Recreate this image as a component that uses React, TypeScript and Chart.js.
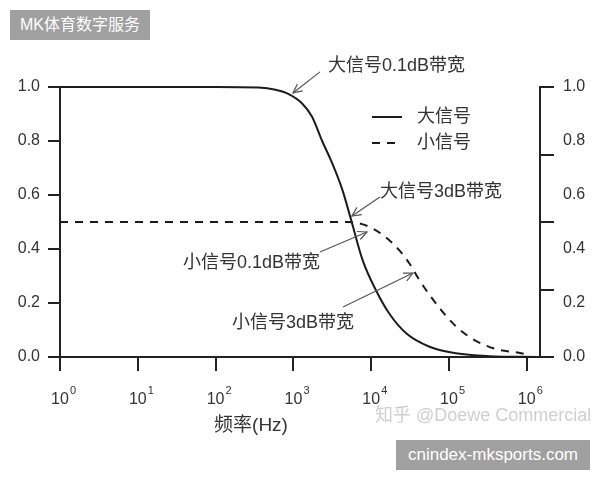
import { useEffect, useRef } from 'react';
import { Chart, registerables } from 'chart.js';
import type { ChartConfiguration, Plugin } from 'chart.js';

Chart.register(...registerables);

// Large signal response: frequency (Hz) and normalised amplitude
const largeFreq = [1, 100, 355, 589, 871, 1288, 1738, 2344, 3162, 4266, 5495, 7762, 11480, 16980, 28180, 56230, 123000, 331100, 1318000];
const largeGain = [1.0, 1.0, 0.998, 0.99, 0.974, 0.94, 0.89, 0.8, 0.717, 0.619, 0.51, 0.359, 0.248, 0.162, 0.088, 0.038, 0.0136, 0.003, 0.0];

// Small signal response
const smallFreq = [1, 5012, 7079, 9333, 14130, 22910, 30900, 41690, 56230, 79430, 117500, 182000, 288400, 446700, 851100, 1023000];
const smallGain = [0.5, 0.5, 0.495, 0.483, 0.452, 0.396, 0.347, 0.285, 0.23, 0.174, 0.119, 0.075, 0.044, 0.026, 0.014, 0.007];

const seriesNames = ['大信号', '小信号'];

// decades on the x axis: base label plus exponent drawn as superscript
const xTickExponents = [0, 1, 2, 3, 4, 5, 6];
const xTickBase = '10';
const yTickValues = [0, 0.2, 0.4, 0.6, 0.8, 1.0];
const rightMarkValues = [0, 0.25, 0.5, 0.75, 1.0];
const xTitle = '频率(Hz)';

// callouts: text anchor (left, middle), arrow start and arrow tip, in data space
const notes = [
  { text: '大信号0.1dB带宽', at: [2786, 1.078], from: [2198, 1.056], tip: [989, 0.978] },
  { text: '大信号3dB带宽', at: [12970, 0.611], from: [12970, 0.593], tip: [5663, 0.522] },
  { text: '小信号0.1dB带宽', at: [38, 0.348], from: [2198, 0.389], tip: [8830, 0.463] },
  { text: '小信号3dB带宽', at: [162, 0.126], from: [4345, 0.185], tip: [34430, 0.311] },
];

const INK = '#222';
const TEXT = '#333';
const LATIN = '"Liberation Sans", Arial, "Noto Sans CJK SC", sans-serif';

const overlay: Plugin<'line'> = {
  id: 'overlay',
  afterDraw(chart) {
    const { ctx, chartArea } = chart;
    const xs = chart.scales.x;
    const ys = chart.scales.y;
    ctx.save();

    // superscript exponents next to the "10" tick labels
    ctx.font = `11px ${LATIN}`;
    ctx.textBaseline = 'top';
    ctx.textAlign = 'left';
    ctx.fillStyle = TEXT;
    xs.ticks.forEach((t, i) => {
      ctx.fillText(String(xTickExponents[i]), xs.getPixelForValue(t.value) + 10, chartArea.bottom + 28);
    });

    // callouts with open arrowheads
    ctx.font = `18px ${LATIN}`;
    ctx.textBaseline = 'middle';
    ctx.strokeStyle = '#555';
    ctx.lineWidth = 1.2;
    notes.forEach((n) => {
      ctx.fillText(n.text, xs.getPixelForValue(n.at[0]), ys.getPixelForValue(n.at[1]));
      const x0 = xs.getPixelForValue(n.from[0]);
      const y0 = ys.getPixelForValue(n.from[1]);
      const x1 = xs.getPixelForValue(n.tip[0]);
      const y1 = ys.getPixelForValue(n.tip[1]);
      ctx.beginPath();
      ctx.moveTo(x0, y0);
      ctx.lineTo(x1, y1);
      ctx.stroke();
      const a = Math.atan2(y1 - y0, x1 - x0);
      ctx.beginPath();
      ctx.moveTo(x1 - 10 * Math.cos(a - 0.45), y1 - 10 * Math.sin(a - 0.45));
      ctx.lineTo(x1, y1);
      ctx.lineTo(x1 - 10 * Math.cos(a + 0.45), y1 - 10 * Math.sin(a + 0.45));
      ctx.stroke();
    });

    // legend inside the plot
    chart.data.datasets.forEach((ds: any, i) => {
      const ly = chartArea.top + 30 + i * 26;
      const lx = chartArea.left + 312;
      ctx.beginPath();
      ctx.strokeStyle = ds.borderColor;
      ctx.lineWidth = ds.borderWidth;
      ctx.setLineDash(ds.borderDash || []);
      ctx.moveTo(lx, ly);
      ctx.lineTo(lx + 30, ly);
      ctx.stroke();
      ctx.setLineDash([]);
      ctx.fillStyle = TEXT;
      ctx.fillText(ds.label, lx + 45, ly);
    });

    // x axis title
    ctx.font = `19px ${LATIN}`;
    ctx.textAlign = 'center';
    ctx.fillStyle = TEXT;
    ctx.fillText(xTitle, chartArea.left + 191, chartArea.bottom + 69);

    ctx.restore();
  },
};

export default function App() {
  const canvasRef = useRef<HTMLCanvasElement>(null);
  const chartRef = useRef<Chart | null>(null);

  useEffect(() => {
    if (!canvasRef.current) return;
    if (chartRef.current) chartRef.current.destroy();

    const tickFont = { family: LATIN, size: 16 };

    const config: ChartConfiguration<'line'> = {
      type: 'line',
      data: {
        datasets: [
          {
            label: seriesNames[0],
            data: largeFreq.map((f, i) => ({ x: f, y: largeGain[i] })),
            borderColor: '#1c1c1c',
            borderWidth: 2,
            pointRadius: 0,
            cubicInterpolationMode: 'monotone',
            clip: false,
          },
          {
            label: seriesNames[1],
            data: smallFreq.map((f, i) => ({ x: f, y: smallGain[i] })),
            borderColor: '#1c1c1c',
            borderWidth: 2,
            borderDash: [8, 7],
            pointRadius: 0,
            cubicInterpolationMode: 'monotone',
            clip: false,
          },
        ],
      },
      options: {
        animation: false,
        responsive: true,
        maintainAspectRatio: false,
        layout: { padding: { top: 87, left: 0, right: 0, bottom: 0 } },
        plugins: {
          legend: { display: false },
          tooltip: { enabled: false },
        },
        scales: {
          x: {
            type: 'logarithmic',
            min: 1,
            max: 1.48e6,
            afterBuildTicks: (s) => {
              s.ticks = xTickExponents.map((e) => ({ value: 10 ** e }));
            },
            afterFit: (s) => {
              s.height = 123;
            },
            ticks: {
              callback: () => xTickBase,
              autoSkip: false,
              maxRotation: 0,
              padding: 19,
              color: TEXT,
              font: tickFont,
            },
            grid: { drawOnChartArea: false, tickLength: 14, color: INK, lineWidth: 2 },
            border: { color: INK, width: 2 },
          },
          y: {
            position: 'left',
            min: 0,
            max: 1,
            afterBuildTicks: (s) => {
              s.ticks = yTickValues.map((v) => ({ value: v }));
            },
            afterFit: (s) => {
              s.width = 60;
            },
            ticks: {
              callback: (v) => Number(v).toFixed(1),
              padding: 8,
              color: TEXT,
              font: tickFont,
            },
            grid: { drawOnChartArea: false, tickLength: 12, color: INK, lineWidth: 2 },
            border: { color: INK, width: 2 },
          },
          y2: {
            position: 'right',
            weight: 0,
            min: 0,
            max: 1,
            afterBuildTicks: (s) => {
              s.ticks = rightMarkValues.map((v) => ({ value: v }));
            },
            afterFit: (s) => {
              s.width = 14;
            },
            ticks: { display: false },
            grid: { drawOnChartArea: false, tickLength: 14, color: INK, lineWidth: 2 },
            border: { color: INK, width: 2 },
          },
          y3: {
            position: 'right',
            weight: 1,
            min: 0,
            max: 1,
            afterBuildTicks: (s) => {
              s.ticks = yTickValues.map((v) => ({ value: v }));
            },
            afterFit: (s) => {
              s.width = 46;
            },
            ticks: {
              callback: (v) => Number(v).toFixed(1),
              padding: 9,
              color: TEXT,
              font: tickFont,
            },
            grid: { display: false, drawTicks: false },
            border: { display: false },
          },
        },
      },
      plugins: [overlay],
    };

    chartRef.current = new Chart(canvasRef.current, config);

    return () => {
      if (chartRef.current) {
        chartRef.current.destroy();
        chartRef.current = null;
      }
    };
  }, []);

  return (
    <div style={{ position: 'absolute', left: 0, top: 0, width: 600, height: 480, background: '#fff' }}>
      <canvas ref={canvasRef}></canvas>
      <div
        style={{
          position: 'absolute', left: 10, top: 10, width: 140, height: 30, lineHeight: '30px',
          paddingLeft: 10, boxSizing: 'border-box', background: '#a0a0a0', color: '#fff',
          fontFamily: LATIN, fontSize: 16,
        }}
      >
        MK体育数字服务
      </div>
      <div
        style={{
          position: 'absolute', left: 375, top: 400, color: '#cfcfcf',
          fontFamily: LATIN, fontSize: 18, whiteSpace: 'nowrap',
        }}
      >
        知乎 @Doewe Commercial
      </div>
      <div
        style={{
          position: 'absolute', left: 396, top: 440, width: 194, height: 30, lineHeight: '30px',
          textAlign: 'center', background: '#a0a0a0', color: '#fff',
          fontFamily: LATIN, fontSize: 17,
        }}
      >
        cnindex-mksports.com
      </div>
    </div>
  );
}
